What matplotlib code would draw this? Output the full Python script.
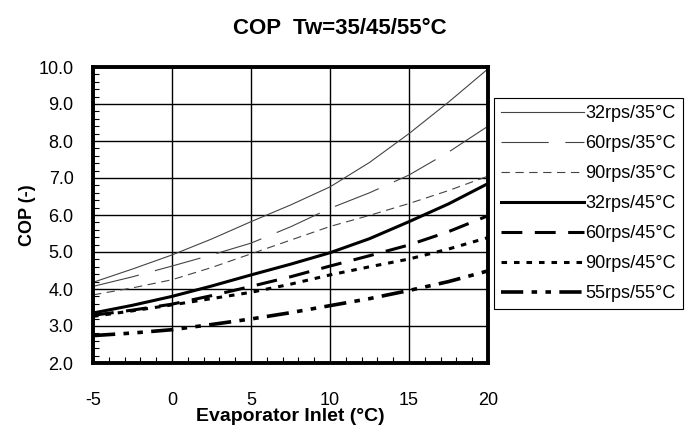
import numpy as np
import matplotlib
matplotlib.use("Agg")
import matplotlib.pyplot as plt
from matplotlib.ticker import MultipleLocator, FormatStrFormatter

plt.rcParams['font.family'] = ['Liberation Sans', 'DejaVu Sans']
plt.rcParams['lines.scale_dashes'] = False
plt.rcParams['axes.unicode_minus'] = False

# evaporator inlet temperature (°C)
t_evap = [-5, -2.5, 0, 2.5, 5, 7.5, 10, 12.5, 15, 17.5, 20]

cop_32_35 = [4.18, 4.54, 4.92, 5.35, 5.82, 6.27, 6.76, 7.42, 8.20, 9.05, 9.95]
cop_60_35 = [4.07, 4.33, 4.62, 4.92, 5.24, 5.68, 6.18, 6.60, 7.08, 7.70, 8.40]
cop_90_35 = [3.84, 4.03, 4.25, 4.58, 4.95, 5.32, 5.69, 5.99, 6.31, 6.66, 7.05]
cop_32_45 = [3.35, 3.56, 3.80, 4.08, 4.38, 4.67, 4.98, 5.36, 5.82, 6.30, 6.85]
cop_60_45 = [3.29, 3.43, 3.59, 3.82, 4.07, 4.33, 4.62, 4.90, 5.19, 5.55, 5.98]
cop_90_45 = [3.26, 3.41, 3.57, 3.74, 3.91, 4.13, 4.38, 4.60, 4.81, 5.08, 5.39]
cop_55_55 = [2.74, 2.81, 2.90, 3.04, 3.19, 3.36, 3.55, 3.74, 3.96, 4.20, 4.49]

labels = ["32rps/35°C", "60rps/35°C", "90rps/35°C", "32rps/45°C",
          "60rps/45°C", "90rps/45°C", "55rps/55°C"]

fig = plt.figure(figsize=(6.85, 4.26), dpi=100)
ax = fig.add_axes([93 / 685, 1 - 363 / 426, 395 / 685, 296 / 426])

thin = dict(color='#444444', lw=0.8)
thick = dict(color='black', lw=2.2)

ax.plot(t_evap, cop_32_35, label=labels[0], **thin)
ax.plot(t_evap, cop_60_35, label=labels[1], dashes=(34, 12), **thin)
ax.plot(t_evap, cop_90_35, label=labels[2], dashes=(6, 4), **thin)
ax.plot(t_evap, cop_32_45, label=labels[3], **thick)
ax.plot(t_evap, cop_60_45, label=labels[4], dashes=(15, 9), **thick)
ax.plot(t_evap, cop_90_45, label=labels[5], dashes=(4, 5), **thick)
ax.plot(t_evap, cop_55_55, label=labels[6], color='black', lw=2.6,
        dashes=(16, 6, 4, 6, 4, 6))

ax.set_xlim(-5, 20)
ax.set_ylim(2, 10)
ax.xaxis.set_major_locator(MultipleLocator(5))
ax.xaxis.set_minor_locator(MultipleLocator(1))
ax.yaxis.set_major_locator(MultipleLocator(1))
ax.yaxis.set_minor_locator(MultipleLocator(0.2))
ax.yaxis.set_major_formatter(FormatStrFormatter('%.1f'))
ax.grid(True, which='major', color='black', lw=1.0)
ax.tick_params(which='both', direction='in', labelsize=13)
ax.tick_params(which='major', length=0)
ax.tick_params(which='minor', length=4, width=0.8)
ax.tick_params(axis='x', pad=21)
ax.tick_params(axis='y', pad=14)
for sp in ax.spines.values():
    sp.set_linewidth(2.8)

ax.set_title("COP  Tw=35/45/55°C", fontsize=16, fontweight='bold', x=0.625, y=1.085)
ax.set_xlabel("Evaporator Inlet (°C)", fontsize=14, fontweight='bold', labelpad=-1)
ax.set_ylabel("COP (-)", fontsize=13, fontweight='bold', labelpad=2)

leg = ax.legend(loc='upper left', bbox_to_anchor=(494 / 685, 1 - 98 / 426),
                bbox_transform=fig.transFigure, fontsize=13, handlelength=4.6,
                handletextpad=0.05, labelspacing=0.72, borderpad=0.4,
                borderaxespad=0, fancybox=False, framealpha=1)
leg.get_frame().set_edgecolor('black')
leg.get_frame().set_linewidth(0.8)

fig.savefig("out.png", dpi=100)
